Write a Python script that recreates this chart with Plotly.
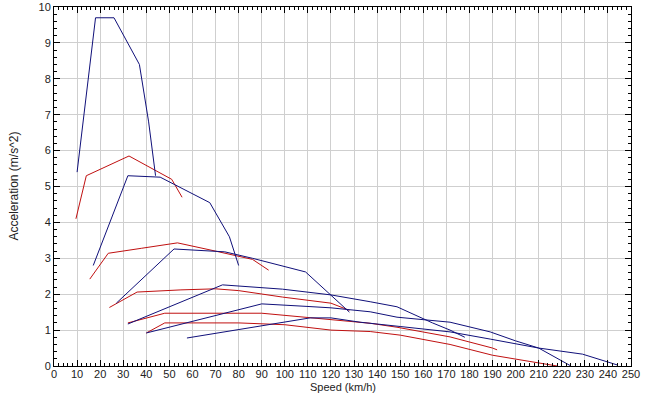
import plotly.graph_objects as go

# Blue car gears (speed km/h, acceleration m/s^2)
b1_x = [10, 18, 26, 32, 37, 41, 44]
b1_y = [5.4, 9.7, 9.7, 9.0, 8.4, 6.8, 5.3]
b2_x = [17, 32, 46, 67.5, 76, 80]
b2_y = [2.8, 5.3, 5.26, 4.55, 3.6, 2.8]
b3_x = [27, 52, 74, 86, 109, 128]
b3_y = [1.75, 3.26, 3.18, 3.0, 2.62, 1.5]
b4_x = [32, 73, 99, 120, 137, 148.6, 164, 171.6, 178]
b4_y = [1.17, 2.26, 2.14, 1.98, 1.79, 1.65, 1.2, 1.0, 0.8]
b5_x = [40, 90, 109.6, 120, 137, 148.6, 171.6, 189, 200, 210, 224]
b5_y = [0.92, 1.73, 1.66, 1.62, 1.51, 1.36, 1.22, 0.95, 0.7, 0.5, 0.0]
b6_x = [57.6, 111, 120, 132.6, 150, 171.6, 189, 200, 210, 229, 236, 244]
b6_y = [0.78, 1.34, 1.34, 1.22, 1.1, 0.95, 0.75, 0.62, 0.5, 0.33, 0.2, 0.03]

# Red car gears
r1_x = [9.5, 14, 32.5, 51, 55.5]
r1_y = [4.1, 5.3, 5.85, 5.2, 4.7]
r2_x = [15.5, 23.5, 38, 53.5, 70, 86, 93]
r2_y = [2.42, 3.14, 3.28, 3.43, 3.2, 2.97, 2.67]
r3_x = [24, 36, 55, 70, 80, 99, 120, 128]
r3_y = [1.63, 2.06, 2.12, 2.15, 2.1, 1.92, 1.75, 1.55]
r4_x = [32, 48, 90, 120, 137, 148.6, 171.6, 190, 192]
r4_y = [1.2, 1.47, 1.47, 1.28, 1.19, 1.08, 0.81, 0.5, 0.45]
r5_x = [40, 48, 80, 100, 120, 137, 150, 171.6, 190, 205, 218]
r5_y = [0.92, 1.2, 1.2, 1.15, 1.0, 0.96, 0.86, 0.6, 0.3, 0.15, 0.0]

blue_series = [(b1_x, b1_y), (b2_x, b2_y), (b3_x, b3_y), (b4_x, b4_y), (b5_x, b5_y), (b6_x, b6_y)]
red_series = [(r1_x, r1_y), (r2_x, r2_y), (r3_x, r3_y), (r4_x, r4_y), (r5_x, r5_y)]

x_ticks = list(range(0, 251, 10))
y_ticks = list(range(0, 11, 1))
x_title = "Speed (km/h)"
y_title = "Acceleration (m/s^2)"

fig = go.Figure()
for xs, ys in red_series:
    fig.add_trace(go.Scatter(x=xs, y=ys, mode="lines",
                             line=dict(color="#C01010", width=1), showlegend=False))
for xs, ys in blue_series:
    fig.add_trace(go.Scatter(x=xs, y=ys, mode="lines",
                             line=dict(color="#10107A", width=1), showlegend=False))

FONT = "Liberation Sans, Arial, sans-serif"
axis_font = dict(family=FONT, size=11, color="#222")
title_font = dict(family=FONT, size=12, color="#222")
xtitle_font = dict(family=FONT, size=11, color="#222")

fig.update_layout(
    width=667, height=394,
    margin=dict(l=54, r=36, t=7, b=28, autoexpand=False),
    paper_bgcolor="white", plot_bgcolor="white",
    font=axis_font,
    xaxis=dict(range=[0, 250], tickvals=x_ticks, ticktext=[str(v) for v in x_ticks],
               showgrid=True, gridcolor="#CFCFCF", gridwidth=1,
               showline=True, linecolor="black", linewidth=1, mirror="ticks",
               ticks="inside", ticklen=6, tickcolor="black",
               minor=dict(ticks="inside", dtick=2, ticklen=3, tickcolor="black", showgrid=False),
               zeroline=False, automargin=False, tickfont=axis_font,
               ticklabelstandoff=-2),
    yaxis=dict(range=[0, 10], tickvals=y_ticks, ticktext=[str(v) for v in y_ticks],
               showgrid=True, gridcolor="#CFCFCF", gridwidth=1,
               showline=True, linecolor="black", linewidth=1, mirror="ticks",
               ticks="inside", ticklen=6, tickcolor="black",
               minor=dict(ticks="inside", dtick=0.2, ticklen=3, tickcolor="black", showgrid=False),
               zeroline=False, automargin=False, tickfont=axis_font),
    annotations=[
        dict(text=x_title, xref="paper", yref="paper", x=0.5, y=-28 / 359,
             xanchor="center", yanchor="bottom", showarrow=False, font=xtitle_font,
             borderpad=0),
        dict(text=y_title, xref="paper", yref="paper", x=-(54 - 13) / 577, y=0.5,
             xanchor="center", yanchor="middle", textangle=-90, showarrow=False,
             font=title_font, borderpad=0),
    ],
)

fig.write_html("out.html", config={"displayModeBar": False},
               post_script="document.body.style.margin='0';")
